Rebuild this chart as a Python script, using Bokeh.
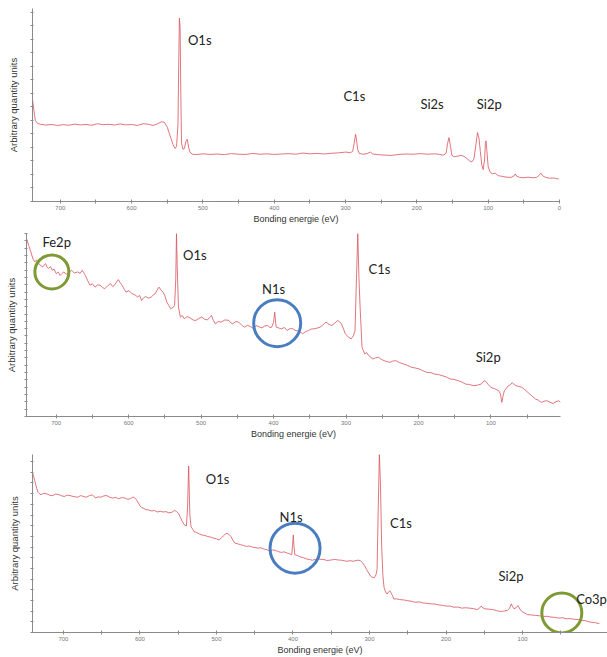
from bokeh.plotting import figure
from bokeh.layouts import column
from bokeh.models import FixedTicker, Label, Range1d
from bokeh.embed import file_html
from bokeh.resources import INLINE

# ---------------- data (binding energy eV, arbitrary intensity) ----------------
panel1_spectrum = [
    (739, 53), (737, 47), (735, 42), (732, 40.5), (728, 40), (720, 39.6), (712, 39.9),
    (704, 39.4), (696, 39.8), (688, 39.5), (680, 40.1), (672, 39.7), (664, 39.9),
    (656, 39.5), (648, 40.3), (640, 39.8), (632, 40.0), (624, 39.6), (616, 40.2),
    (608, 39.7), (600, 39.9), (592, 39.4), (584, 40.3), (576, 40.0), (570, 39.4),
    (564, 40.2), (558, 41.3), (554, 41.0), (550, 38.5), (546, 34), (542, 29.5),
    (539, 27.5), (537, 28.5), (535, 40), (534, 70), (533, 95), (532, 90), (531, 55),
    (530, 30), (528, 27), (526, 27.5), (524, 31), (522, 32.2), (520, 28), (518, 25.5),
    (515, 24.5), (510, 24.3), (500, 24.7), (490, 24.4), (480, 24.6), (470, 24.3),
    (460, 24.8), (450, 24.5), (440, 24.4), (430, 24.9), (420, 24.5), (410, 24.7),
    (400, 24.4), (390, 24.6), (380, 24.8), (370, 24.5), (360, 25.1), (350, 24.7),
    (340, 24.9), (330, 24.6), (320, 25.0), (310, 25.2), (300, 25.6), (293, 25.3),
    (290, 26), (288, 30), (286, 34.8), (285, 33), (283, 27), (281, 25), (276, 24.5),
    (270, 24.8), (265, 25.6), (262, 24.6), (255, 24.3), (245, 24.0), (235, 23.9),
    (225, 24.4), (215, 24.6), (205, 24.5), (195, 24.8), (185, 24.5), (175, 24.7),
    (168, 24.4), (163, 24.0), (159, 25), (157, 30), (155, 33.1), (153, 29), (151, 24),
    (148, 23.2), (143, 23.5), (138, 23.9), (134, 23.4), (130, 22.3), (126, 21.0),
    (123, 20.5), (120, 22), (117, 30), (115, 35.7), (113, 33), (111, 26), (109, 19),
    (107, 16.5), (105, 22), (104, 30), (103, 31.4), (102, 27), (100, 18), (97, 15),
    (94, 14.4), (90, 14.6), (86, 13.4), (80, 13.0), (74, 12.6), (68, 12.5), (64, 13.2),
    (62, 14.3), (60, 13.1), (56, 12.5), (50, 12.3), (44, 12.6), (38, 12.3), (32, 12.5),
    (28, 13.8), (26, 14.7), (24, 13.4), (20, 12.6), (14, 12.0), (8, 12.2), (4, 11.8),
    (1, 11.7),
]

panel2_spectrum = [
    (741, 97.3), (738, 93.5), (735, 89.9), (732, 86.0), (729.5, 84.5), (727, 85.6),
    (724, 83.5), (721, 82.4), (718.7, 81.7), (716.5, 82.9), (714.5, 83.5), (712.5, 81.5),
    (710.7, 80.8), (708, 81.9), (705.4, 79.9), (703, 80.6), (700, 78.1), (697, 78.9),
    (694.6, 77.1), (692, 78.2), (689.3, 79.0), (686.5, 77.8), (683.9, 78.1), (681, 79.3),
    (678.6, 79.9), (675, 78.4), (670.5, 79.0), (667, 78.2), (664.1, 79.9), (662, 78.6),
    (659.8, 77.1), (656.5, 74.2), (653.4, 71.7), (650, 72.5), (646.4, 70.7), (643, 71.9),
    (639.5, 71.7), (636, 70.5), (633, 69.8), (629, 71.4), (625, 72.6), (622, 71.0),
    (619.7, 71.7), (617, 73.3), (614.3, 74.8), (611.5, 73.0), (608.9, 71.7), (606, 69.4),
    (603.6, 68.0), (599.5, 68.8), (595.6, 67.1), (591.5, 66.5), (587.5, 65.3), (585, 66.2),
    (582.2, 63.4), (579.5, 64.8), (576.8, 65.6), (573, 64.7), (568.8, 65.3), (566, 66.4),
    (563.4, 67.1), (561, 68.9), (558.1, 70.7), (555.5, 69.2), (552.7, 68.0), (550, 65.9),
    (547.3, 62.5), (544.5, 60.6), (542, 58.9), (539, 59.5), (536.6, 60.7), (535, 75),
    (534, 100), (533, 82), (531.3, 59.8), (528.6, 54.3), (526, 55.2), (523.3, 53.4),
    (519, 54.6), (515.2, 53.9), (511, 52.7), (507.2, 52.5), (503, 53.6), (499.1, 54.3),
    (495, 53.1), (491.1, 52.8), (488.5, 54.0), (485.8, 55.2), (483, 52.4), (480.4, 50.6),
    (476.5, 51.9), (472.4, 51.6), (467, 52.8), (461.7, 52.5), (459, 51.2), (456.3, 50.6),
    (452, 51.9), (448.3, 51.6), (444, 49.9), (440.2, 48.8), (436, 49.8), (432.2, 49.2),
    (428, 48.1), (424.2, 49.7), (420, 49.0), (416.1, 48.4), (412, 49.5), (408.1, 49.7),
    (405, 48.6), (402.7, 48.8), (400, 51.5), (398.4, 57.0), (397, 50.5), (396.3, 48.8),
    (393, 48.4), (389.4, 47.9), (385, 48.6), (381.3, 47.0), (377, 48.1), (373.3, 47.9),
    (369, 46.8), (365.3, 47.0), (362.5, 46.1), (359.9, 45.2), (356, 46.3), (351.9, 47.0),
    (348, 47.8), (343.8, 47.9), (340, 48.3), (335.8, 48.8), (332, 50.0), (327.7, 51.6),
    (323.5, 50.4), (319.7, 49.7), (315.5, 51.0), (311.7, 52.5), (309, 51.8), (306.3, 50.6),
    (303.5, 47.9), (301, 45.2), (297, 43.5), (292.9, 42.4), (290, 44.0), (287.6, 47.0),
    (285.4, 78), (283.8, 100), (282.2, 76), (280.6, 60), (277.9, 37.8), (274.2, 34.2),
    (271.5, 34.9), (268.8, 33.3), (266, 32.5), (263.5, 31.4), (259.5, 32.0), (255.4, 32.4),
    (251.5, 31.3), (247.4, 30.5), (243.5, 30.0), (239.4, 29.6), (235.5, 30.3), (231.3, 30.5),
    (226, 29.4), (220.6, 28.7), (215, 27.9), (209.9, 26.9), (204.5, 26.5), (199.2, 26.0),
    (194, 25.0), (188.5, 24.1), (183, 24.0), (177.8, 23.2), (172.5, 22.9), (167.1, 22.3),
    (161.5, 21.6), (156.3, 20.5), (151, 20.3), (145.6, 19.6), (140, 18.8), (134.9, 17.7),
    (129.5, 17.5), (124.2, 16.8), (119, 17.1), (113.5, 17.7), (111, 18.9), (108.1, 19.6),
    (104, 17.6), (100.1, 15.9), (95, 15.2), (89.4, 14.1), (87, 12.5), (85.1, 7.7),
    (83, 11.8), (81.4, 14.1), (78.5, 15.5), (76, 16.8), (73, 17.4), (70.6, 18.6),
    (68, 17.5), (65.3, 16.8), (61, 16.4), (57.3, 15.9), (53, 14.6), (49.2, 13.2),
    (44, 11.4), (38.5, 9.5), (34.5, 8.9), (30.5, 7.7), (26.5, 8.4), (22.4, 8.6),
    (18.5, 7.8), (14.4, 7.1), (10.5, 8.1), (6.4, 8.6), (4, 7.7),
]

panel3_spectrum = [
    (740.4, 89.9), (738.5, 87.0), (736.9, 84.3), (735, 81.2), (733.3, 78.8), (731.5, 78.0),
    (729.3, 77.5), (725.5, 78.2), (721.7, 77.9), (718, 77.1), (714.1, 76.9), (710, 77.8),
    (706.5, 77.5), (702.5, 76.8), (698.9, 76.4), (695, 77.2), (691.3, 76.9), (686, 76.3),
    (681.2, 76.0), (677.5, 76.9), (673.6, 76.4), (670, 76.0), (666.0, 76.9), (662, 77.3),
    (658.3, 75.6), (654.5, 76.2), (650.7, 76.0), (647, 76.8), (643.1, 76.9), (639.5, 76.0),
    (635.5, 75.5), (631.5, 75.9), (627.9, 75.1), (624, 75.8), (620.3, 75.6), (616.5, 74.9),
    (612.7, 75.1), (610, 75.9), (607.7, 76.0), (605, 74.8), (602.6, 73.2), (600, 71.2),
    (597.5, 70.1), (595, 69.7), (592.5, 69.0), (589, 68.9), (584.9, 68.3), (581, 68.5),
    (577.3, 67.7), (573.5, 68.1), (569.7, 67.7), (566, 67.9), (562.1, 67.2), (558, 67.6),
    (554.5, 68.6), (552, 67.9), (549.4, 66.8), (547, 64.5), (544.4, 62.2), (542, 60.5),
    (539.3, 59.8), (537.8, 70), (536.3, 93.5), (534.8, 66), (533.2, 59.4), (531, 58.0),
    (529.2, 56.6), (526.5, 56.3), (524.1, 55.7), (521.5, 55.2), (519.1, 54.8), (515, 54.5),
    (511.5, 53.9), (507.5, 53.6), (503.9, 53.0), (500, 52.6), (496.3, 52.0), (493.5, 53.2),
    (491.2, 54.2), (488.5, 55.3), (486.2, 55.7), (483.5, 55.0), (481.1, 53.9), (478.5, 51.8),
    (476.0, 50.2), (472, 49.8), (468.4, 49.3), (464.5, 48.9), (460.8, 48.3), (457, 48.6),
    (453.2, 48.0), (449.5, 47.7), (445.6, 47.4), (442, 47.6), (438.0, 46.9), (434, 46.5),
    (430.4, 45.6), (426.5, 46.4), (422.8, 46.1), (419, 45.4), (415.2, 45.0), (411.5, 45.3),
    (407.6, 44.6), (404.5, 44.2), (401.6, 43.7), (400.6, 49), (399.6, 54.8), (398.6, 48),
    (397.6, 43.7), (394, 43.2), (390.0, 42.4), (386, 42.0), (382.4, 41.3), (378.5, 41.0),
    (374.8, 40.6), (371, 41.0), (367.2, 41.3), (363.5, 41.1), (359.6, 41.0), (356, 40.5),
    (351.9, 40.6), (348, 40.9), (344.3, 41.0), (340.5, 40.7), (336.7, 40.6), (333, 40.3),
    (329.1, 40.0), (325.5, 40.4), (321.5, 40.0), (317.5, 40.5), (313.9, 40.6), (311.5, 40.2),
    (308.9, 39.1), (306.5, 37.5), (303.8, 35.4), (301, 33.4), (298.7, 31.7), (296, 30.9),
    (293.6, 30.8), (291.5, 32.5), (290.1, 35.4), (288.6, 70), (287.1, 100), (285.6, 82),
    (284.1, 48.3), (282.5, 32.0), (281.0, 25.3), (279, 22.8), (277.0, 21.6), (275, 22.9),
    (273.3, 23.4), (271.5, 22.0), (269.9, 20.7), (268.3, 18.8), (264.5, 18.9), (260.7, 18.5),
    (255.5, 18.3), (250.6, 17.9), (245.5, 17.6), (240.3, 17.0), (235, 17.2), (230.2, 16.6),
    (225, 16.4), (220.1, 16.1), (215, 16.0), (210.0, 15.5), (205, 15.3), (199.8, 14.8),
    (195, 14.9), (189.7, 14.2), (184.5, 14.3), (179.6, 13.7), (174.5, 13.9), (169.4, 13.7),
    (164.5, 13.4), (159.3, 12.9), (156.5, 13.6), (154.2, 14.8), (151.5, 13.8), (149.2, 13.3),
    (144, 13.1), (139.0, 12.9), (134, 12.3), (128.9, 11.8), (124.5, 12.0), (119.8, 12.4),
    (117, 13.6), (114.7, 16.1), (113, 14.6), (111.2, 13.3), (108.5, 13.9), (106.1, 15.1),
    (103.5, 13.2), (101.0, 11.8), (97, 10.9), (93.4, 10.0), (88.5, 9.9), (83.3, 9.6),
    (78, 9.4), (73.2, 9.0), (68, 9.1), (63.0, 8.7), (58, 8.5), (52.9, 8.1), (48, 8.3),
    (42.7, 7.7), (37.5, 7.8), (32.6, 7.4), (27.5, 7.3), (22.5, 6.8), (17.5, 6.6),
    (12.3, 5.9), (6, 5.6), (-0.4, 5.0),
]

# peak labels: (text, energy of left edge, intensity of text middle)
panel1_labels = [("O1s", 521, 83.7), ("C1s", 303, 54.5), ("Si2s", 195, 50.6), ("Si2p", 116, 50.6)]
panel2_labels = [("Fe2p", 719, 95.4), ("O1s", 525, 88), ("N1s", 416, 69.8),
                 ("C1s", 269, 80.8), ("Si2p", 121, 32.4)]
panel3_labels = [("O1s", 514, 86.2), ("N1s", 417.6, 65.0), ("C1s", 273.3, 61.3),
                 ("Si2p", 131.4, 31.7), ("Co3p", 30, 18.8)]

# highlight circles: (energy, intensity, diameter px, colour)
panel2_circles = [(706, 79, 34, "#7f9a34"), (395, 51, 47, "#4a7dc0")]
panel3_circles = [(48.7, 11.0, 40, "#7f9a34"), (397.3, 47.4, 50, "#4a7dc0")]

x_major = [700, 600, 500, 400, 300, 200, 100, 0]
x_minor = [750, 650, 550, 450, 350, 250, 150, 50]

X_LABEL = "Bonding energie (eV)"
Y_LABEL = "Arbitrary quantity units"

LINE_COLOR = "#d9565e"
AXIS_COLOR = "#8a8a8a"


def make_panel(spectrum, labels, circles, x_start, x_end, height,
               left, right, top, bottom, majors, y_step, ylab_standoff):
    p = figure(width=607, height=height, output_backend="svg", toolbar_location=None,
               x_range=Range1d(x_start, x_end), y_range=Range1d(0, 100),
               min_border_left=left, min_border_right=right,
               min_border_top=top, min_border_bottom=bottom)
    p.frame_align = False
    p.outline_line_color = None
    p.grid.visible = False
    p.background_fill_color = "white"
    p.border_fill_color = "white"

    xs = [e for e, _ in spectrum]
    ys = [v for _, v in spectrum]
    p.line(xs, ys, line_color=LINE_COLOR, line_width=0.9, line_alpha=0.9)

    for cx, cy, d, col in circles:
        p.scatter([cx], [cy], marker="circle", size=d, fill_color=None,
                  line_color=col, line_width=3)

    for txt, ex, vy in labels:
        p.add_layout(Label(x=ex, y=vy, text=txt, text_font="Lato", text_font_size="13px",
                           text_color="#222222", text_align="left", text_baseline="middle"))

    xa = p.xaxis[0]
    xa.ticker = FixedTicker(ticks=majors, minor_ticks=x_minor)
    xa.axis_label = X_LABEL
    xa.axis_label_text_font = "Liberation Sans"
    xa.axis_label_text_font_size = "9px"
    xa.axis_label_text_font_style = "normal"
    xa.axis_label_text_color = "#333333"
    xa.axis_label_standoff = 1
    xa.major_label_text_font = "Liberation Sans"
    xa.major_label_text_font_size = "6px"
    xa.major_label_text_color = "#777777"
    xa.major_label_standoff = 2
    xa.axis_line_color = AXIS_COLOR
    xa.major_tick_line_color = AXIS_COLOR
    xa.minor_tick_line_color = AXIS_COLOR
    xa.major_tick_in = 2
    xa.major_tick_out = 2
    xa.minor_tick_in = 2
    xa.minor_tick_out = 2

    ya = p.yaxis[0]
    ya.ticker = FixedTicker(ticks=[], minor_ticks=list(range(0, 101, y_step)))
    ya.axis_label = Y_LABEL
    ya.axis_label_text_font = "Liberation Sans"
    ya.axis_label_text_font_size = "9.5px"
    ya.axis_label_text_font_style = "normal"
    ya.axis_label_text_color = "#333333"
    ya.axis_label_standoff = ylab_standoff
    ya.major_label_standoff = 0
    ya.axis_line_color = AXIS_COLOR
    ya.minor_tick_line_color = AXIS_COLOR
    ya.minor_tick_in = 1
    ya.minor_tick_out = 2
    return p


p1 = make_panel(panel1_spectrum, panel1_labels, [], 739, 0, 226,
                32, 48, 8, 23, x_major, 7, 12)
p2 = make_panel(panel2_spectrum, panel2_labels, panel2_circles, 741, 4, 215,
                26, 47, 7, 25, x_major[:-1], 4, 8)
p3 = make_panel(panel3_spectrum, panel3_labels, panel3_circles, 740.4, -11, 216,
                32, 0, 13, 22, x_major[:-1], 6, 11)

layout = column(p1, p2, p3, spacing=0)

with open("out.html", "w") as f:
    f.write(file_html(layout, INLINE))
